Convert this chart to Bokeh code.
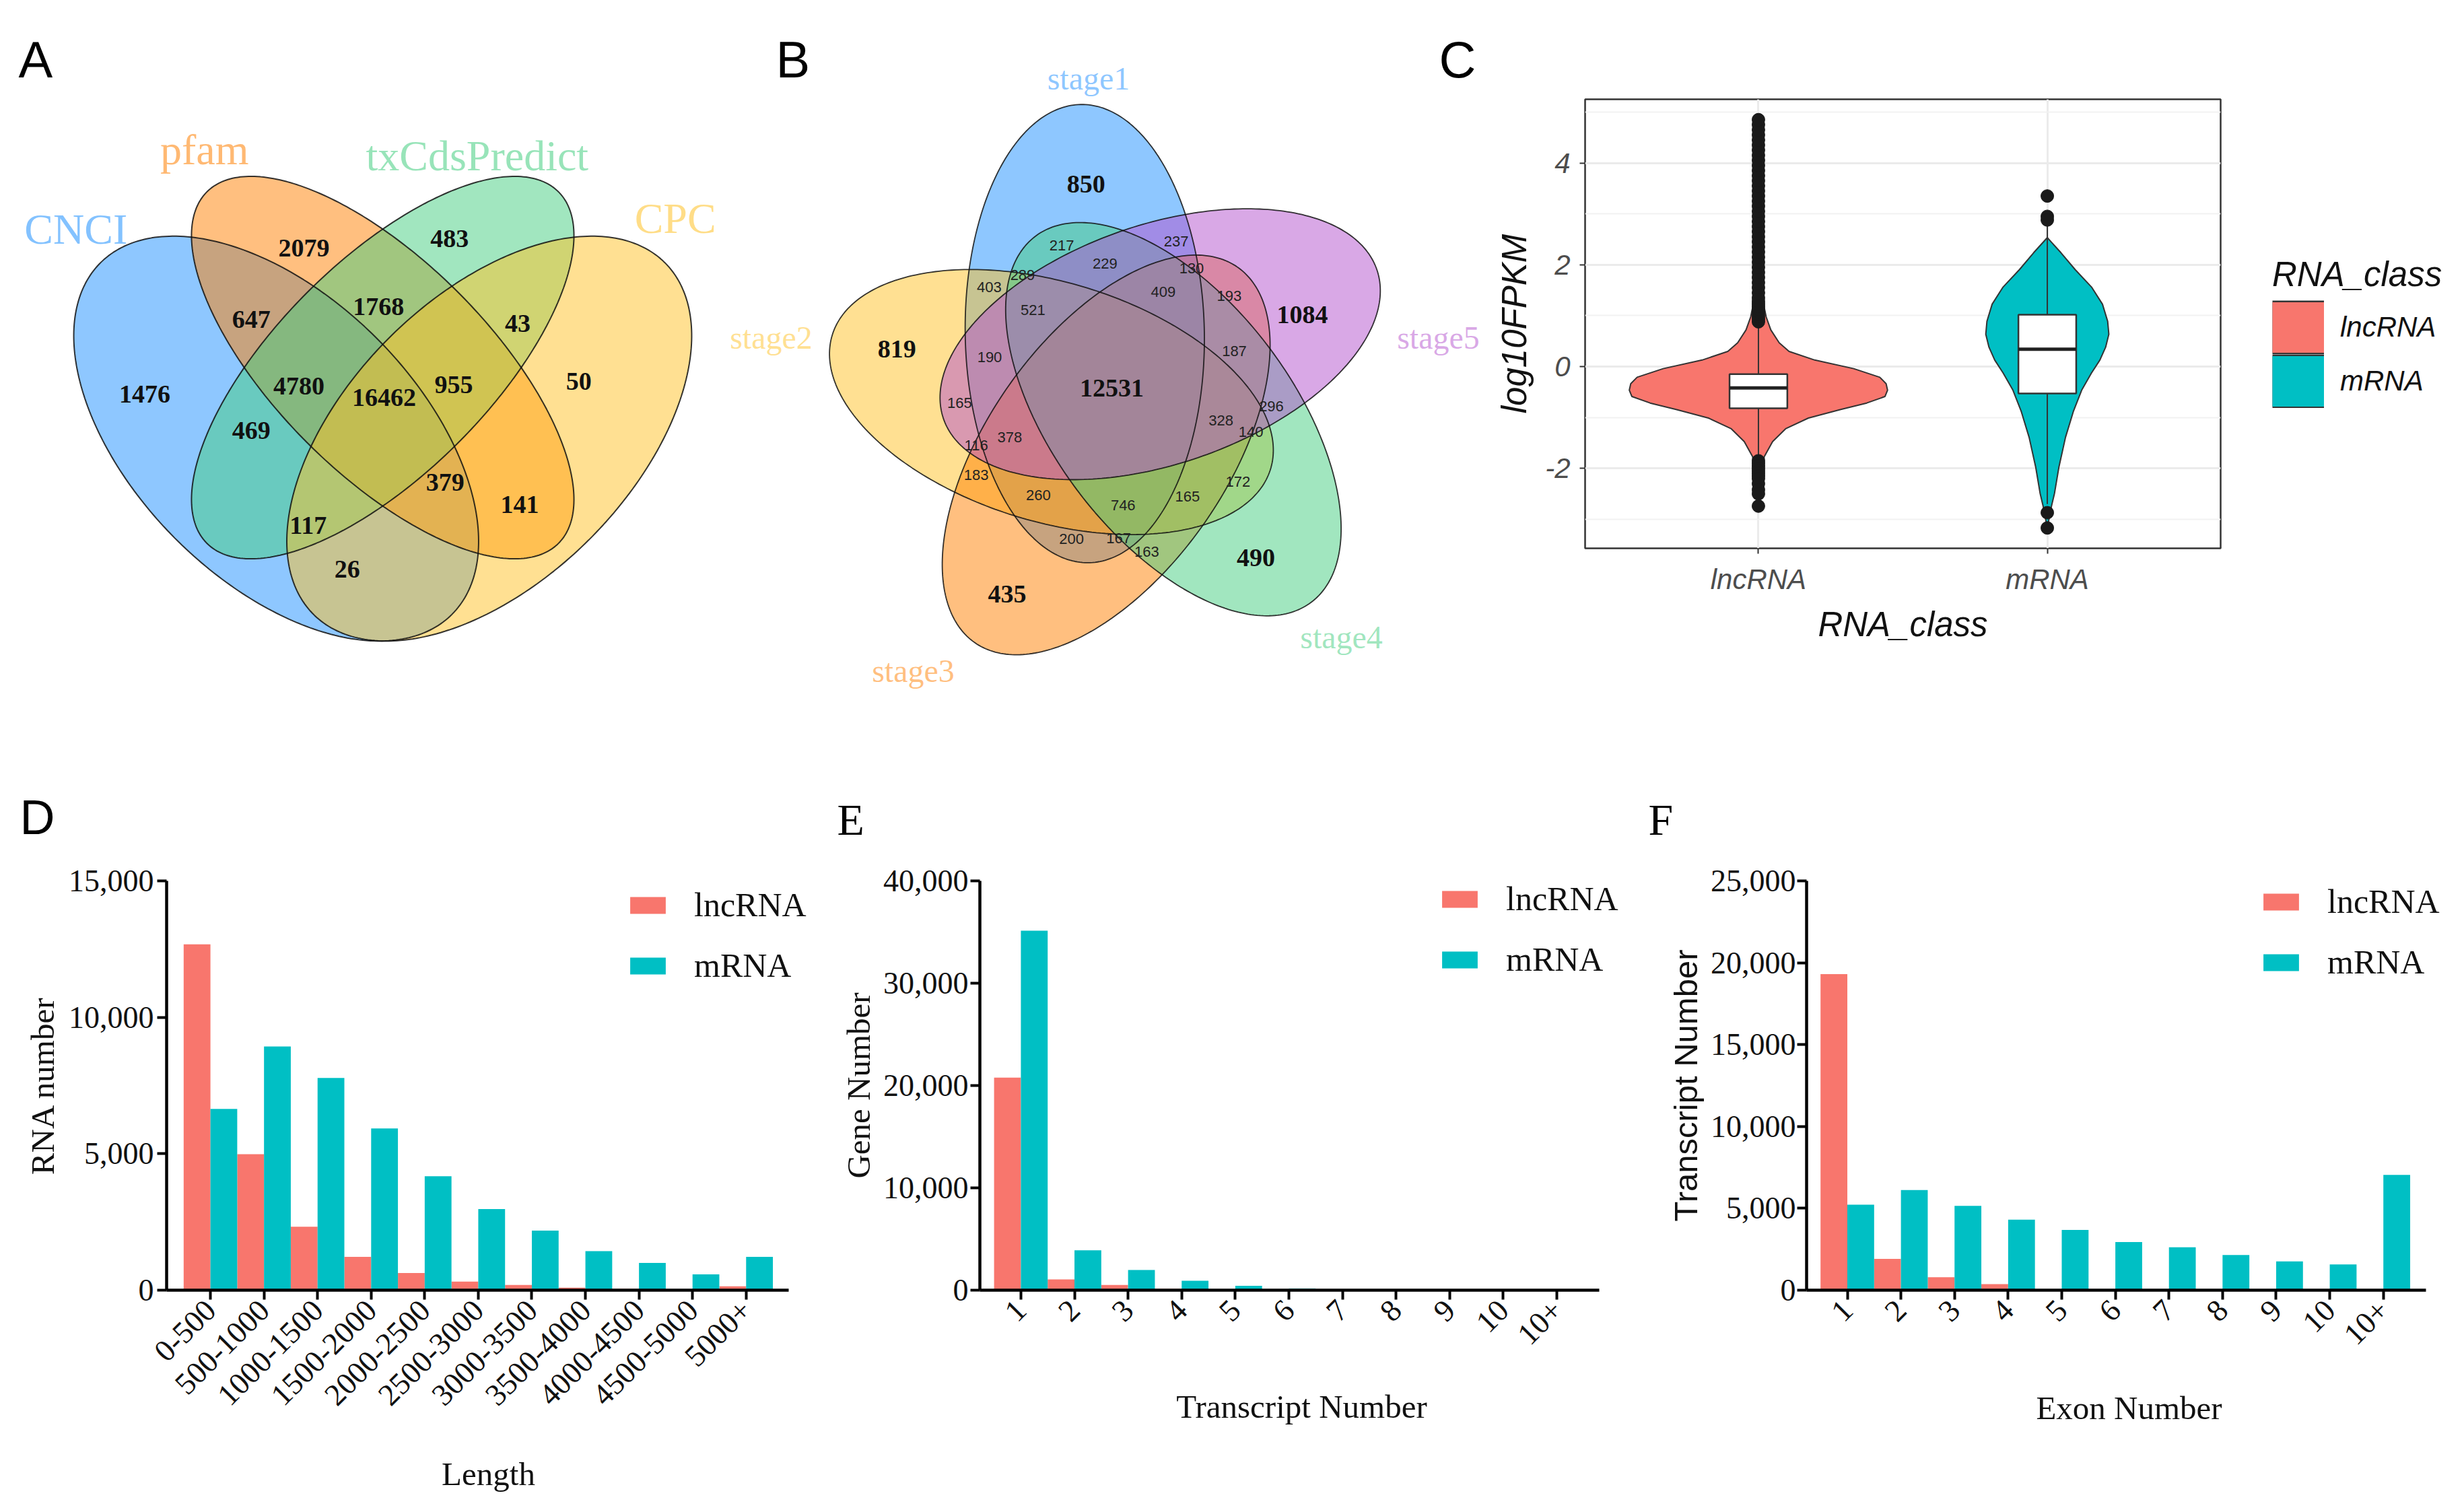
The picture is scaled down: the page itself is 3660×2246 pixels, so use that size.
import numpy as np
from math import pi
from bokeh.plotting import figure
from bokeh.models import (Range1d, FixedTicker, NumeralTickFormatter,
                          Legend, LegendItem, Label, ColumnDataSource)
from bokeh.layouts import row, column
from bokeh.transform import dodge
from bokeh.core.properties import value
from bokeh.embed import file_html
from bokeh.resources import INLINE

SERIF = "Liberation Serif"
SANS = "Liberation Sans"
LNC_COLOR = "#F8766D"
MRNA_COLOR = "#00BFC4"

# ---------------- Panel A : 4-set Venn ----------------
venn4_names = ["CNCI", "pfam", "txCdsPredict", "CPC"]
venn4_counts = [2079, 483, 1768, 647, 43, 1476, 4780, 16462, 955, 50, 469, 379, 141, 117, 26]
venn4_count_x = [0.389, 0.594, 0.494, 0.315, 0.690, 0.165, 0.382, 0.502, 0.600, 0.776, 0.315, 0.588, 0.693, 0.395, 0.450]
venn4_count_y = [0.738, 0.752, 0.656, 0.638, 0.632, 0.533, 0.544, 0.528, 0.546, 0.551, 0.481, 0.408, 0.377, 0.348, 0.286]
venn4_name_x = [0.068, 0.249, 0.633, 0.912]
venn4_name_y = [0.765, 0.877, 0.868, 0.780]
venn4_colors = ["#1E90FF", "#FF7F00", "#43CD80", "#FFC125"]
venn4_cx = [0.35, 0.5, 0.5, 0.65]
venn4_cy = [0.47, 0.57, 0.57, 0.47]
venn4_a = [0.35, 0.35, 0.35, 0.35]
venn4_b = [0.2, 0.15, 0.15, 0.2]
venn4_angle = [-45, -45, 45, 45]

# ---------------- Panel B : 5-set Venn ----------------
venn5_names = ["stage1", "stage2", "stage3", "stage4", "stage5"]
venn5_counts = [850, 819, 1084, 435, 490, 12531,
                217, 237, 229, 130, 289, 403, 409, 193, 521, 190, 187, 165, 296,
                328, 140, 116, 378, 183, 172, 260, 746, 165, 200, 167, 163]
venn5_big = [1] * 6 + [0] * 25
venn5_count_x = [0.4415, 0.0619, 0.8757, 0.2832, 0.7824, 0.4932,
                 0.3928, 0.6224, 0.4797, 0.6534, 0.3142, 0.2470, 0.5966, 0.7289, 0.3349,
                 0.2480, 0.7392, 0.1878, 0.8135, 0.7122, 0.7724, 0.2211, 0.2884, 0.2211,
                 0.7465, 0.3459, 0.5159, 0.6451, 0.4122, 0.5068, 0.5635]
venn5_count_y = [0.9153, 0.5832, 0.6527, 0.0919, 0.1651, 0.5057,
                 0.7919, 0.8005, 0.7557, 0.7454, 0.7324, 0.7084, 0.6980, 0.6911, 0.6626,
                 0.5678, 0.5791, 0.4757, 0.4689, 0.4411, 0.4169, 0.3911, 0.4068, 0.3316,
                 0.3176, 0.2905, 0.2703, 0.2878, 0.2027, 0.2041, 0.1764]
venn5_name_x = [0.4466, -0.1905, 0.0946, 0.9541, 1.1486]
venn5_name_y = [1.127, 0.6068, -0.0622, 0.0054, 0.6068]
venn5_colors = ["#1E90FF", "#FFC125", "#FF7F00", "#43CD80", "#B452CD"]
venn5_phi = [118, 190, 262, 334, 46]
venn5_dist = 0.13
venn5_a = 0.46
venn5_b = 0.24
venn5_tilt = -27

# ---------------- Panel C : violin ----------------
rna_classes = ["lncRNA", "mRNA"]
lnc_violin_y = [4.85, 1.3, 0.972, 0.719, 0.466, 0.297, 0.128, -0.041, -0.209, -0.336, -0.463,
                -0.589, -0.716, -0.843, -1.011, -1.222, -1.475, -1.771, -2.75]
lnc_violin_w = [0.003, 0.015, 0.027, 0.043, 0.072, 0.106, 0.195, 0.330, 0.420, 0.442, 0.447,
                0.438, 0.375, 0.285, 0.173, 0.094, 0.049, 0.020, 0.003]
mrna_violin_y = [2.533, 2.238, 1.901, 1.563, 1.225, 0.888, 0.635, 0.381, 0.128, -0.125, -0.463,
                 -0.885, -1.39, -1.98, -2.488, -2.825, -3.12]
mrna_violin_w = [0.0, 0.047, 0.097, 0.153, 0.191, 0.209, 0.213, 0.202, 0.182, 0.153, 0.119,
                 0.090, 0.063, 0.040, 0.025, 0.011, 0.002]
box_q1 = [-0.82, -0.53]
box_median = [-0.42, 0.34]
box_q3 = [-0.15, 1.02]
whisker_low = [-1.80, -2.70]
whisker_high = [0.88, 2.80]
lnc_outliers = [0.88, 0.93, 0.98, 1.03, 1.08, 1.13, 1.18, 1.23, 1.28, 1.35, 1.45, 1.55, 1.65,
                1.75, 1.85, 1.95, 2.05, 2.15, 2.25, 2.35, 2.45, 2.55, 2.65, 2.75, 2.85, 2.95,
                3.05, 3.15, 3.25, 3.35, 3.45, 3.55, 3.65, 3.75, 3.85, 3.95, 4.05, 4.15, 4.25,
                4.35, 4.45, 4.55, 4.65, 4.75, 4.85,
                -1.85, -1.9, -1.95, -2.0, -2.05, -2.1, -2.15, -2.2, -2.3, -2.42, -2.5, -2.74]
mrna_outliers = [3.35, 2.95, 2.88, -2.87, -3.17]

# ---------------- Panels D, E, F : bars ----------------
length_bins = ["0-500", "500-1000", "1000-1500", "1500-2000", "2000-2500", "2500-3000",
               "3000-3500", "3500-4000", "4000-4500", "4500-5000", "5000+"]
length_lnc = [12675, 4983, 2325, 1224, 629, 315, 192, 90, 50, 30, 140]
length_mrna = [6643, 8934, 7780, 5927, 4178, 2972, 2185, 1434, 997, 577, 1224]

transcript_bins = ["1", "2", "3", "4", "5", "6", "7", "8", "9", "10", "10+"]
transcript_lnc = [20776, 1049, 504, 130, 60, 25, 12, 8, 5, 3, 5]
transcript_mrna = [35131, 3903, 1973, 923, 420, 170, 80, 40, 25, 15, 30]

exon_bins = ["1", "2", "3", "4", "5", "6", "7", "8", "9", "10", "10+"]
exon_lnc = [19301, 1917, 788, 368, 40, 20, 10, 5, 3, 2, 5]
exon_mrna = [5226, 6119, 5147, 4307, 3676, 2941, 2626, 2153, 1759, 1576, 7038]


def ellipse_xy(cx, cy, a, b, ang_deg, n=300):
    t = np.linspace(0, 2 * np.pi, n)
    th = np.deg2rad(ang_deg)
    x = cx + a * np.cos(t) * np.cos(th) - b * np.sin(t) * np.sin(th)
    y = cy + a * np.cos(t) * np.sin(th) + b * np.sin(t) * np.cos(th)
    return list(x), list(y)


def blank_fig(w, h, xr, yr):
    p = figure(width=w, height=h, x_range=Range1d(*xr), y_range=Range1d(*yr),
               output_backend="svg", toolbar_location=None, min_border=0,
               x_axis_location=None, y_axis_location=None)
    p.grid.visible = False
    p.outline_line_color = None
    p.background_fill_color = "white"
    p.border_fill_color = "white"
    return p


def letter(p, txt, x, y, font, size):
    p.add_layout(Label(x=x, y=y, text=txt, text_font=font, text_font_size=size,
                       text_color="black", text_align="left", text_baseline="alphabetic"))


# ---------- Panel A ----------
pA = blank_fig(1077, 1092, (-0.0384, 0.9825), (0.052, 1.0871))
xs4, ys4 = [], []
for i in range(4):
    ex, ey = ellipse_xy(venn4_cx[i], venn4_cy[i], venn4_a[i], venn4_b[i], venn4_angle[i])
    xs4.append(ex); ys4.append(ey)
pA.patches(xs4, ys4, fill_color=venn4_colors, fill_alpha=0.5, line_color=None)
pA.patches(xs4, ys4, fill_color=None, line_color="#111111", line_alpha=0.85, line_width=2)
pA.text(x=venn4_count_x, y=venn4_count_y, text=[str(c) for c in venn4_counts],
        text_font=value(SERIF), text_font_size="38px", text_font_style="bold",
        text_align="center", text_baseline="middle", text_color="#111111")
pA.text(x=venn4_name_x, y=venn4_name_y, text=venn4_names, text_font=value(SERIF),
        text_font_size="64px", text_align="center", text_baseline="middle",
        text_color=venn4_colors, text_alpha=0.55)
letter(pA, "A", -0.0128, 1.0037, SANS, "76px")

# ---------- Panel B ----------
pB = blank_fig(1130, 1092, (-0.2824, 1.2446), (-0.1919, 1.2838))
xs5, ys5 = [], []
for i in range(5):
    ph = np.deg2rad(venn5_phi[i])
    cx = 0.5 + venn5_dist * np.cos(ph)
    cy = 0.5 + venn5_dist * np.sin(ph)
    ex, ey = ellipse_xy(cx, cy, venn5_a, venn5_b, venn5_phi[i] + venn5_tilt)
    xs5.append(ex); ys5.append(ey)
pB.patches(xs5, ys5, fill_color=venn5_colors, fill_alpha=0.5, line_color=None)
pB.patches(xs5, ys5, fill_color=None, line_color="#111111", line_alpha=0.85, line_width=1.8)
big = [i for i, b in enumerate(venn5_big) if b]
small = [i for i, b in enumerate(venn5_big) if not b]
pB.text(x=[venn5_count_x[i] for i in big], y=[venn5_count_y[i] for i in big],
        text=[str(venn5_counts[i]) for i in big], text_font=value(SERIF),
        text_font_size="38px", text_font_style="bold", text_align="center",
        text_baseline="middle", text_color="#111111")
pB.text(x=[venn5_count_x[i] for i in small], y=[venn5_count_y[i] for i in small],
        text=[str(venn5_counts[i]) for i in small], text_font=value(SANS),
        text_font_size="22px", text_align="center", text_baseline="middle",
        text_color="#222222")
pB.text(x=venn5_name_x, y=venn5_name_y, text=venn5_names, text_font=value(SERIF),
        text_font_size="48px", text_align="center", text_baseline="middle",
        text_color=venn5_colors, text_alpha=0.5)
letter(pB, "B", -0.181, 1.1647, SANS, "76px")
letter(pB, "C", 1.150, 1.1647, SANS, "76px")

# ---------- Panel C ----------
pC = figure(width=1115, height=1092, x_range=Range1d(0.4, 2.6), y_range=Range1d(-3.57, 5.25),
            output_backend="svg", toolbar_location=None,
            min_border_left=147, min_border_right=24, min_border_top=147, min_border_bottom=278)
pC.background_fill_color = "white"
pC.outline_line_color = "#333333"
pC.outline_line_width = 2.5
yt = FixedTicker(ticks=[-2, 0, 2, 4], minor_ticks=[-3, -1, 1, 3, 5])
xt = FixedTicker(ticks=[1, 2], minor_ticks=[])
pC.yaxis.ticker = yt
pC.xaxis.ticker = xt
pC.xaxis.major_label_overrides = {1: rna_classes[0], 2: rna_classes[1]}
pC.yaxis.major_label_overrides = {-2: "-2", 0: "0", 2: "2", 4: "4"}
pC.xgrid.ticker = xt
pC.ygrid.ticker = yt
pC.grid.grid_line_color = "#EBEBEB"
pC.grid.grid_line_width = 3
pC.ygrid.minor_grid_line_color = "#F2F2F2"
pC.ygrid.minor_grid_line_width = 2
for ax in (pC.xaxis[0], pC.yaxis[0]):
    ax.axis_line_color = None
    ax.major_tick_line_color = "#333333"
    ax.major_tick_line_width = 2
    ax.major_tick_out = 8
    ax.major_tick_in = 0
    ax.minor_tick_line_color = None
    ax.major_label_text_font = SANS
    ax.major_label_text_font_style = "italic"
    ax.major_label_text_font_size = "42px"
    ax.major_label_text_color = "#4D4D4D"
    ax.axis_label_text_font = SANS
    ax.axis_label_text_font_style = "italic"
    ax.axis_label_text_font_size = "51px"
    ax.axis_label_text_color = "#111111"
pC.yaxis.major_label_standoff = 14
pC.yaxis.axis_label_standoff = 14
pC.xaxis.major_label_standoff = 14
pC.xaxis.axis_label_standoff = 12
pC.yaxis.axis_label = "log10FPKM"
pC.xaxis.axis_label = "RNA_class"

for pos, vy, vw, col in ((1, lnc_violin_y, lnc_violin_w, LNC_COLOR),
                         (2, mrna_violin_y, mrna_violin_w, MRNA_COLOR)):
    vy = np.array(vy); vw = np.array(vw)
    px = np.concatenate([pos + vw, (pos - vw)[::-1]])
    py = np.concatenate([vy, vy[::-1]])
    pC.patch(px, py, fill_color=col, line_color="#333333", line_width=2)
pos_arr = np.array([1, 2])
pC.segment(x0=pos_arr, y0=whisker_low, x1=pos_arr, y1=whisker_high,
           line_color="#333333", line_width=2)
pC.scatter(x=[1] * len(lnc_outliers) + [2] * len(mrna_outliers),
           y=lnc_outliers + mrna_outliers, size=19, color="#1A1A1A")
pC.vbar(x=pos_arr, width=0.2, bottom=box_q1, top=box_q3, fill_color="white",
        line_color="#333333", line_width=2.5)
pC.segment(x0=pos_arr - 0.1, y0=box_median, x1=pos_arr + 0.1, y1=box_median,
           line_color="#222222", line_width=5)

# legend of panel C (its own strip to the right of the plot); key marks lie off-range
pL = blank_fig(322, 1092, (0, 1), (0, 1))
def key_line(color, width):
    return pL.line(x=[-3, -2], y=[-3, -3], line_color=color, line_width=width, line_cap="butt")
key_border_1 = key_line("#333333", 80)
key_lnc = key_line(LNC_COLOR, 75)
key_border_2 = key_line("#333333", 80)
key_mrna = key_line(MRNA_COLOR, 75)
legC = Legend(items=[LegendItem(label=rna_classes[0], renderers=[key_border_1, key_lnc]),
                     LegendItem(label=rna_classes[1], renderers=[key_border_2, key_mrna])],
              title="RNA_class", location=(53, 486), glyph_width=77, glyph_height=80,
              spacing=0, padding=0, margin=0, label_standoff=24, title_standoff=9,
              border_line_color=None, background_fill_alpha=0,
              label_text_font=SANS, label_text_font_style="italic",
              label_text_font_size="42px", label_text_color="#111111",
              title_text_font=SANS, title_text_font_style="italic",
              title_text_font_size="51px", title_text_color="#111111")
pL.add_layout(legC)


# ---------- Bar panels ----------
def bar_panel(cats, lnc, mrna, width, left, xr, xbounds, ymax, yticks,
              ylabel, xlabel, ylabel_font, leg_loc, letter_txt, letter_offset,
              y_title_standoff, y_label_standoff, x_title_standoff):
    idx = list(range(len(cats)))
    src = ColumnDataSource(dict(idx=idx, lnc=lnc, mrna=mrna))
    p = figure(width=width, height=1138, x_range=Range1d(*xr), y_range=Range1d(0, ymax),
               output_backend="svg", toolbar_location=None,
               min_border_left=left, min_border_right=width - left - int(round((xr[1] - xr[0]) * 79.6)),
               min_border_top=216, min_border_bottom=314)
    p.grid.visible = False
    p.outline_line_color = None
    r1 = p.vbar(x=dodge("idx", -0.25), top="lnc", width=0.5, source=src,
                fill_color=LNC_COLOR, line_color=None)
    r2 = p.vbar(x=dodge("idx", 0.25), top="mrna", width=0.5, source=src,
                fill_color=MRNA_COLOR, line_color=None)
    p.xaxis.ticker = FixedTicker(ticks=idx, minor_ticks=[])
    p.xaxis.major_label_overrides = {i: c for i, c in zip(idx, cats)}
    p.xaxis.bounds = xbounds
    p.yaxis.ticker = FixedTicker(ticks=yticks, minor_ticks=[])
    p.yaxis.formatter = NumeralTickFormatter(format="0,0")
    for ax in (p.xaxis[0], p.yaxis[0]):
        ax.axis_line_color = "black"
        ax.axis_line_width = 4.5
        ax.major_tick_line_color = "black"
        ax.major_tick_line_width = 4
        ax.major_tick_out = 14
        ax.major_tick_in = 0
        ax.minor_tick_line_color = None
        ax.major_label_text_font = SERIF
        ax.major_label_text_font_size = "46px"
        ax.major_label_text_color = "#111111"
        ax.axis_label_text_font_style = "normal"
        ax.axis_label_text_font_size = "49px"
        ax.axis_label_text_color = "#111111"
    p.xaxis.major_label_orientation = pi / 4
    p.xaxis.major_label_standoff = 8
    p.xaxis.axis_label = xlabel
    p.xaxis.axis_label_text_font = SERIF
    p.xaxis.axis_label_standoff = x_title_standoff
    p.yaxis.axis_label = ylabel
    p.yaxis.axis_label_text_font = ylabel_font
    p.yaxis.axis_label_standoff = y_title_standoff
    p.yaxis.major_label_standoff = y_label_standoff
    leg = Legend(items=[LegendItem(label="lncRNA", renderers=[r1]),
                        LegendItem(label="mRNA", renderers=[r2])],
                 location=leg_loc, glyph_width=66, glyph_height=31, spacing=32,
                 padding=0, margin=0, label_standoff=36, border_line_color=None,
                 background_fill_alpha=0, label_text_font=SERIF,
                 label_text_font_size="50px", label_text_color="#111111")
    p.add_layout(leg)
    p.title.text = letter_txt[0]
    p.title.text_font = letter_txt[1]
    p.title.text_font_size = letter_txt[2]
    p.title.text_font_style = "normal"
    p.title.text_color = "black"
    p.title.align = "left"
    p.title.offset = letter_offset
    p.title.standoff = 110
    return p


pD = bar_panel(length_bins, length_lnc, length_mrna, 1217, 247, (-0.818, 11.197), (-0.818, 10.79),
               15000, [0, 5000, 10000, 15000], "RNA number", "Length", SERIF,
               (682, 453), ("D", SANS, "72px"), -218, 8, 5, 58)
pE = bar_panel(transcript_bins, transcript_lnc, transcript_mrna, 1205, 238, (-0.765, 11.243),
               (-0.765, 10.79), 40000, [0, 10000, 20000, 30000, 40000], "Gene Number",
               "Transcript Number", SERIF, (680, 462), ("E", SERIF, "66px"), -212, 6, 3, 48)
pF = bar_panel(exon_bins, exon_lnc, exon_mrna, 1222, 261, (-0.76, 11.272), (-0.76, 10.8),
               25000, [0, 5000, 10000, 15000, 20000, 25000], "Transcript Number",
               "Exon Number", SANS, (672, 458), ("F", SERIF, "66px"), -235, 7, 2, 50)

layout = column(row(column(pA), column(pB), column(pC), column(pL)),
                row(column(pD), column(pE), column(pF)))
open("out.html", "w").write(file_html(layout, INLINE))
